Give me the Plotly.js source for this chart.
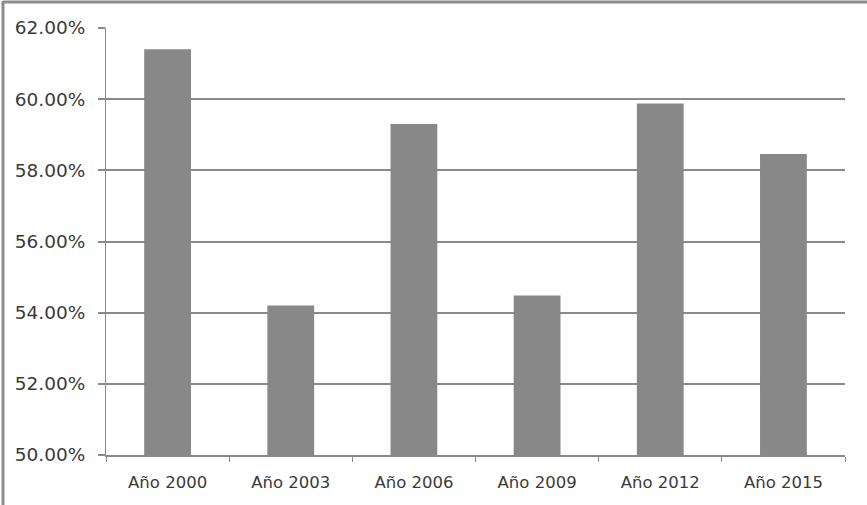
<!DOCTYPE html>
<html>
<head>
<meta charset="utf-8">
<script src="https://cdn.plot.ly/plotly-3.0.1.min.js"></script>
<style>
html,body{margin:0;padding:0;background:#fff;}
#chart{width:867px;height:505px;}
</style>
</head>
<body>
<div id="chart"></div>
<script>
const categories = ["Año 2000", "Año 2003", "Año 2006", "Año 2009", "Año 2012", "Año 2015"];
const values = [61.40, 54.20, 59.30, 54.48, 59.88, 58.46];
const yTickVals = [50, 52, 54, 56, 58, 60, 62];
const yTickText = ["50.00%", "52.00%", "54.00%", "56.00%", "58.00%", "60.00%", "62.00%"];

const gray = "#8a8a8a";
const trace = {
  type: "bar",
  x: categories,
  y: values,
  marker: {color: "#888888", line: {width: 0}},
  hoverinfo: "none"
};

const L = 106, R = 845, T = 28, B = 455, W = 867, H = 505;
const pw = R - L, ph = B - T;
const px = v => (v - L) / pw;
const py = v => (B - v) / ph;

const layout = {
  width: W, height: H,
  margin: {l: L, r: W - R, t: T, b: H - B, pad: 0},
  paper_bgcolor: "#fff",
  plot_bgcolor: "#fff",
  showlegend: false,
  bargap: 0.62,
  font: {family: "DejaVu Sans, Liberation Sans, sans-serif", color: "#404040"},
  xaxis: {
    type: "category",
    showgrid: false,
    showline: true, linecolor: gray, linewidth: 2,
    ticks: "outside", ticklen: 5, tickcolor: gray, tickwidth: 1,
    tickson: "boundaries",
    tickfont: {size: 16.5, color: "#3a3a3a"},
    ticklabelstandoff: 11,
    zeroline: false
  },
  yaxis: {
    range: [50, 62],
    tickvals: yTickVals,
    ticktext: yTickText,
    showgrid: true, gridcolor: gray, gridwidth: 2,
    showline: true, linecolor: gray, linewidth: 1,
    ticks: "outside", ticklen: 7, tickcolor: gray, tickwidth: 2,
    tickfont: {size: 18.5, color: "#3a3a3a"},
    zeroline: false,
    ticklabelstandoff: 9
  },
  shapes: [
    {type: "line", xref: "paper", yref: "paper", x0: px(3), x1: px(867), y0: py(2), y1: py(2), line: {color: "#8c8c8c", width: 3}},
    {type: "line", xref: "paper", yref: "paper", x0: px(3), x1: px(3), y0: py(1), y1: py(505), line: {color: "#8c8c8c", width: 3}}
  ]
};

Plotly.newPlot("chart", [trace], layout, {displayModeBar: false, staticPlot: true});
</script>
</body>
</html>
